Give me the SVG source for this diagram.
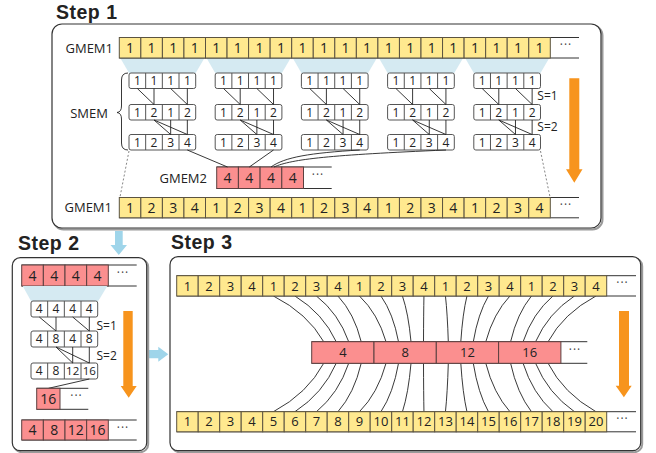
<svg xmlns="http://www.w3.org/2000/svg" width="656" height="453" viewBox="0 0 656 453">
<style>
.box{fill:#fff;stroke:#333;stroke-width:1.2}
.shd{fill:none;stroke:#9a9a9a;stroke-width:2}
.cy{fill:#ffe98f;stroke:#5b5340;stroke-width:1}
.cp{fill:#fb8f8f;stroke:#5b4040;stroke-width:1}
.cw{fill:#fff;stroke:#555;stroke-width:1}
.sep{stroke:#555;stroke-width:1;fill:none}
.ext{stroke:#333;stroke-width:1;fill:none}
.ln{stroke:#222;stroke-width:0.9;fill:none}
.dash{stroke:#777;stroke-width:0.9;stroke-dasharray:2,2;fill:none}
.tr{fill:#d5eaf2}
.or{fill:#f7941d}
.bl{fill:#9fd5ea}
text{font-family:"Open Sans","Liberation Sans",sans-serif;fill:#222}
.c{text-anchor:middle}
.n14{font-size:14px}
.n13{font-size:13px}
.n12{font-size:12px}
.n11{font-size:11.5px}
.lbl{font-size:13px;text-anchor:end}
.s{font-size:12px}
.dots{font-size:12px;text-anchor:middle;letter-spacing:1px;fill:#444}
.ttl{font-family:"Liberation Sans","Open Sans",sans-serif;font-size:19.5px;font-weight:bold;letter-spacing:0.5px}
</style>

<!-- Titles -->
<text class="ttl" x="56" y="19">Step 1</text>
<text class="ttl" x="18" y="250">Step 2</text>
<text class="ttl" x="171" y="249">Step 3</text>

<!-- Step 1 frame -->
<g id="step1">
<rect class="shd" x="53.5" y="25.5" width="549" height="204" rx="10"/>
<rect class="box" x="52" y="24" width="549" height="204" rx="10"/>

<g id="step1-trapezoids">
<polygon class="tr" points="120.3,58 204.5,58 195.7,73 129,73"/>
<polygon class="tr" points="206.5,58 290.7,58 281.9,73 215.2,73"/>
<polygon class="tr" points="292.7,58 376.9,58 368.1,73 301.4,73"/>
<polygon class="tr" points="378.9,58 463.1,58 454.3,73 387.6,73"/>
<polygon class="tr" points="465.1,58 549.3,58 540.5,73 473.8,73"/>
</g>

<g id="gmem1-top">
<text class="lbl" x="113" y="52.5">GMEM1</text>
<path class="ext" d="M119.3,37.5H579M119.3,58H579"/>
<rect class="cy" x="119.3" y="37.5" width="21.55" height="20.5"/>
<rect class="cy" x="140.85" y="37.5" width="21.55" height="20.5"/>
<rect class="cy" x="162.4" y="37.5" width="21.55" height="20.5"/>
<rect class="cy" x="183.95" y="37.5" width="21.55" height="20.5"/>
<rect class="cy" x="205.5" y="37.5" width="21.55" height="20.5"/>
<rect class="cy" x="227.05" y="37.5" width="21.55" height="20.5"/>
<rect class="cy" x="248.6" y="37.5" width="21.55" height="20.5"/>
<rect class="cy" x="270.15" y="37.5" width="21.55" height="20.5"/>
<rect class="cy" x="291.7" y="37.5" width="21.55" height="20.5"/>
<rect class="cy" x="313.25" y="37.5" width="21.55" height="20.5"/>
<rect class="cy" x="334.8" y="37.5" width="21.55" height="20.5"/>
<rect class="cy" x="356.35" y="37.5" width="21.55" height="20.5"/>
<rect class="cy" x="377.9" y="37.5" width="21.55" height="20.5"/>
<rect class="cy" x="399.45" y="37.5" width="21.55" height="20.5"/>
<rect class="cy" x="421" y="37.5" width="21.55" height="20.5"/>
<rect class="cy" x="442.55" y="37.5" width="21.55" height="20.5"/>
<rect class="cy" x="464.1" y="37.5" width="21.55" height="20.5"/>
<rect class="cy" x="485.65" y="37.5" width="21.55" height="20.5"/>
<rect class="cy" x="507.2" y="37.5" width="21.55" height="20.5"/>
<rect class="cy" x="528.75" y="37.5" width="21.55" height="20.5"/>
<g class="c n14">
<text x="130.1" y="52.7">1</text><text x="151.6" y="52.7">1</text><text x="173.2" y="52.7">1</text><text x="194.7" y="52.7">1</text>
<text x="216.3" y="52.7">1</text><text x="237.8" y="52.7">1</text><text x="259.4" y="52.7">1</text><text x="280.9" y="52.7">1</text>
<text x="302.5" y="52.7">1</text><text x="324" y="52.7">1</text><text x="345.6" y="52.7">1</text><text x="367.1" y="52.7">1</text>
<text x="388.7" y="52.7">1</text><text x="410.2" y="52.7">1</text><text x="431.8" y="52.7">1</text><text x="453.3" y="52.7">1</text>
<text x="474.9" y="52.7">1</text><text x="496.4" y="52.7">1</text><text x="518" y="52.7">1</text><text x="539.5" y="52.7">1</text>
</g>
<text class="dots" x="566" y="49">···</text>
</g>

<g id="smem-label">
<text class="n13" x="89" y="117.5" text-anchor="middle">SMEM</text>
<path class="ln" d="M128,73 Q121.5,73 121.5,80 L121.5,106 Q121.5,112 117,112.5 Q121.5,113 121.5,119 L121.5,143 Q121.5,150 128,150"/>
</g>

<g id="smem1" transform="translate(129,0)">
<rect class="cw" x="0" y="73" width="66.7" height="15.5" rx="2"/>
<rect class="cw" x="0" y="104.5" width="66.7" height="15.5" rx="2"/>
<rect class="cw" x="0" y="134.5" width="66.7" height="15.5" rx="2"/>
<path class="sep" d="M16.67,73v15.5M33.33,73v15.5M50,73v15.5M16.67,104.5v15.5M33.33,104.5v15.5M50,104.5v15.5M16.67,134.5v15.5M33.33,134.5v15.5M50,134.5v15.5"/>
<path class="ln" d="M8.33,88.5L25,104.5M25,88.5V104.5M41.67,88.5L58.33,104.5M58.33,88.5V104.5M25,120L41.67,134.5M25,120L58.33,134.5M41.67,120V134.5M58.33,120V134.5"/>
<g class="c n12">
<text x="8.33" y="85">1</text><text x="25" y="85">1</text><text x="41.67" y="85">1</text><text x="58.33" y="85">1</text>
<text x="8.33" y="116.5">1</text><text x="25" y="116.5">2</text><text x="41.67" y="116.5">1</text><text x="58.33" y="116.5">2</text>
<text x="8.33" y="146.5">1</text><text x="25" y="146.5">2</text><text x="41.67" y="146.5">3</text><text x="58.33" y="146.5">4</text>
</g>
</g>
<g id="smem2" transform="translate(215.2,0)">
<rect class="cw" x="0" y="73" width="66.7" height="15.5" rx="2"/>
<rect class="cw" x="0" y="104.5" width="66.7" height="15.5" rx="2"/>
<rect class="cw" x="0" y="134.5" width="66.7" height="15.5" rx="2"/>
<path class="sep" d="M16.67,73v15.5M33.33,73v15.5M50,73v15.5M16.67,104.5v15.5M33.33,104.5v15.5M50,104.5v15.5M16.67,134.5v15.5M33.33,134.5v15.5M50,134.5v15.5"/>
<path class="ln" d="M8.33,88.5L25,104.5M25,88.5V104.5M41.67,88.5L58.33,104.5M58.33,88.5V104.5M25,120L41.67,134.5M25,120L58.33,134.5M41.67,120V134.5M58.33,120V134.5"/>
<g class="c n12">
<text x="8.33" y="85">1</text><text x="25" y="85">1</text><text x="41.67" y="85">1</text><text x="58.33" y="85">1</text>
<text x="8.33" y="116.5">1</text><text x="25" y="116.5">2</text><text x="41.67" y="116.5">1</text><text x="58.33" y="116.5">2</text>
<text x="8.33" y="146.5">1</text><text x="25" y="146.5">2</text><text x="41.67" y="146.5">3</text><text x="58.33" y="146.5">4</text>
</g>
</g>
<g id="smem3" transform="translate(301.4,0)">
<rect class="cw" x="0" y="73" width="66.7" height="15.5" rx="2"/>
<rect class="cw" x="0" y="104.5" width="66.7" height="15.5" rx="2"/>
<rect class="cw" x="0" y="134.5" width="66.7" height="15.5" rx="2"/>
<path class="sep" d="M16.67,73v15.5M33.33,73v15.5M50,73v15.5M16.67,104.5v15.5M33.33,104.5v15.5M50,104.5v15.5M16.67,134.5v15.5M33.33,134.5v15.5M50,134.5v15.5"/>
<path class="ln" d="M8.33,88.5L25,104.5M25,88.5V104.5M41.67,88.5L58.33,104.5M58.33,88.5V104.5M25,120L41.67,134.5M25,120L58.33,134.5M41.67,120V134.5M58.33,120V134.5"/>
<g class="c n12">
<text x="8.33" y="85">1</text><text x="25" y="85">1</text><text x="41.67" y="85">1</text><text x="58.33" y="85">1</text>
<text x="8.33" y="116.5">1</text><text x="25" y="116.5">2</text><text x="41.67" y="116.5">1</text><text x="58.33" y="116.5">2</text>
<text x="8.33" y="146.5">1</text><text x="25" y="146.5">2</text><text x="41.67" y="146.5">3</text><text x="58.33" y="146.5">4</text>
</g>
</g>
<g id="smem4" transform="translate(387.6,0)">
<rect class="cw" x="0" y="73" width="66.7" height="15.5" rx="2"/>
<rect class="cw" x="0" y="104.5" width="66.7" height="15.5" rx="2"/>
<rect class="cw" x="0" y="134.5" width="66.7" height="15.5" rx="2"/>
<path class="sep" d="M16.67,73v15.5M33.33,73v15.5M50,73v15.5M16.67,104.5v15.5M33.33,104.5v15.5M50,104.5v15.5M16.67,134.5v15.5M33.33,134.5v15.5M50,134.5v15.5"/>
<path class="ln" d="M8.33,88.5L25,104.5M25,88.5V104.5M41.67,88.5L58.33,104.5M58.33,88.5V104.5M25,120L41.67,134.5M25,120L58.33,134.5M41.67,120V134.5M58.33,120V134.5"/>
<g class="c n12">
<text x="8.33" y="85">1</text><text x="25" y="85">1</text><text x="41.67" y="85">1</text><text x="58.33" y="85">1</text>
<text x="8.33" y="116.5">1</text><text x="25" y="116.5">2</text><text x="41.67" y="116.5">1</text><text x="58.33" y="116.5">2</text>
<text x="8.33" y="146.5">1</text><text x="25" y="146.5">2</text><text x="41.67" y="146.5">3</text><text x="58.33" y="146.5">4</text>
</g>
</g>
<g id="smem5" transform="translate(473.8,0)">
<rect class="cw" x="0" y="73" width="66.7" height="15.5" rx="2"/>
<rect class="cw" x="0" y="104.5" width="66.7" height="15.5" rx="2"/>
<rect class="cw" x="0" y="134.5" width="66.7" height="15.5" rx="2"/>
<path class="sep" d="M16.67,73v15.5M33.33,73v15.5M50,73v15.5M16.67,104.5v15.5M33.33,104.5v15.5M50,104.5v15.5M16.67,134.5v15.5M33.33,134.5v15.5M50,134.5v15.5"/>
<path class="ln" d="M8.33,88.5L25,104.5M25,88.5V104.5M41.67,88.5L58.33,104.5M58.33,88.5V104.5M25,120L41.67,134.5M25,120L58.33,134.5M41.67,120V134.5M58.33,120V134.5"/>
<g class="c n12">
<text x="8.33" y="85">1</text><text x="25" y="85">1</text><text x="41.67" y="85">1</text><text x="58.33" y="85">1</text>
<text x="8.33" y="116.5">1</text><text x="25" y="116.5">2</text><text x="41.67" y="116.5">1</text><text x="58.33" y="116.5">2</text>
<text x="8.33" y="146.5">1</text><text x="25" y="146.5">2</text><text x="41.67" y="146.5">3</text><text x="58.33" y="146.5">4</text>
</g>
<text class="s" x="63.5" y="100">S=1</text>
<text class="s" x="63.5" y="131">S=2</text>
</g>

<g id="gmem2">
<text class="lbl" x="207" y="182.5">GMEM2</text>
<path class="ext" d="M216.7,167H331.7M216.7,188.5H331.7"/>
<rect class="cp" x="216.7" y="167" width="21.7" height="21.5"/>
<rect class="cp" x="238.4" y="167" width="21.7" height="21.5"/>
<rect class="cp" x="260.1" y="167" width="21.7" height="21.5"/>
<rect class="cp" x="281.8" y="167" width="21.7" height="21.5"/>
<g class="c n14">
<text x="227.55" y="182.7">4</text><text x="249.25" y="182.7">4</text><text x="270.95" y="182.7">4</text><text x="292.65" y="182.7">4</text>
</g>
<text class="dots" x="318" y="179">···</text>
</g>

<g id="gmem1-bottom">
<text class="lbl" x="112" y="212">GMEM1</text>
<path class="ext" d="M119.3,197.5H579M119.3,217.8H579"/>
<rect class="cy" x="119.3" y="197.5" width="21.55" height="20.3"/>
<rect class="cy" x="140.85" y="197.5" width="21.55" height="20.3"/>
<rect class="cy" x="162.4" y="197.5" width="21.55" height="20.3"/>
<rect class="cy" x="183.95" y="197.5" width="21.55" height="20.3"/>
<rect class="cy" x="205.5" y="197.5" width="21.55" height="20.3"/>
<rect class="cy" x="227.05" y="197.5" width="21.55" height="20.3"/>
<rect class="cy" x="248.6" y="197.5" width="21.55" height="20.3"/>
<rect class="cy" x="270.15" y="197.5" width="21.55" height="20.3"/>
<rect class="cy" x="291.7" y="197.5" width="21.55" height="20.3"/>
<rect class="cy" x="313.25" y="197.5" width="21.55" height="20.3"/>
<rect class="cy" x="334.8" y="197.5" width="21.55" height="20.3"/>
<rect class="cy" x="356.35" y="197.5" width="21.55" height="20.3"/>
<rect class="cy" x="377.9" y="197.5" width="21.55" height="20.3"/>
<rect class="cy" x="399.45" y="197.5" width="21.55" height="20.3"/>
<rect class="cy" x="421" y="197.5" width="21.55" height="20.3"/>
<rect class="cy" x="442.55" y="197.5" width="21.55" height="20.3"/>
<rect class="cy" x="464.1" y="197.5" width="21.55" height="20.3"/>
<rect class="cy" x="485.65" y="197.5" width="21.55" height="20.3"/>
<rect class="cy" x="507.2" y="197.5" width="21.55" height="20.3"/>
<rect class="cy" x="528.75" y="197.5" width="21.55" height="20.3"/>
<g class="c n14">
<text x="130.1" y="212.6">1</text><text x="151.6" y="212.6">2</text><text x="173.2" y="212.6">3</text><text x="194.7" y="212.6">4</text>
<text x="216.3" y="212.6">1</text><text x="237.8" y="212.6">2</text><text x="259.4" y="212.6">3</text><text x="280.9" y="212.6">4</text>
<text x="302.5" y="212.6">1</text><text x="324" y="212.6">2</text><text x="345.6" y="212.6">3</text><text x="367.1" y="212.6">4</text>
<text x="388.7" y="212.6">1</text><text x="410.2" y="212.6">2</text><text x="431.8" y="212.6">3</text><text x="453.3" y="212.6">4</text>
<text x="474.9" y="212.6">1</text><text x="496.4" y="212.6">2</text><text x="518" y="212.6">3</text><text x="539.5" y="212.6">4</text>
</g>
<text class="dots" x="566" y="209">···</text>
</g>

<g id="step1-connectors">
<path class="ln" d="M187.3,150L227.5,167"/>
<path class="ln" d="M273.5,150L249.3,167"/>
<path class="ln" d="M271,167C285,157 310,153 359.7,150"/>
<path class="ln" d="M274,167C292,159 330,155 446,150"/>
<path class="dash" d="M129,151L120,197"/>
<path class="dash" d="M540.5,151L550,197"/>
</g>
<polygon id="step1-arrow" class="or" points="569.3,78.3 579.3,78.3 579.3,169.3 582.5,169.3 574.3,182.7 566,169.3 569.3,169.3"/>
</g>

<polygon id="arrow-1-2" class="bl" points="115,231 122.7,231 122.7,245 127,245 118.8,255 110.5,245 115,245"/>
<polygon id="arrow-2-3" class="bl" points="148.3,350 158.3,350 158.3,346.7 168.3,354.2 158.3,361.7 158.3,358.3 148.3,358.3"/>

<g id="step2">
<rect class="shd" x="13.8" y="259.2" width="134.4" height="193" rx="8"/>
<rect class="box" x="12.3" y="257.7" width="134.4" height="193" rx="8"/>
<g id="step2-top">
<path class="ext" d="M21.7,265H136.7M21.7,286H136.7"/>
<rect class="cp" x="21.7" y="265" width="21.65" height="21"/>
<rect class="cp" x="43.35" y="265" width="21.65" height="21"/>
<rect class="cp" x="65" y="265" width="21.65" height="21"/>
<rect class="cp" x="86.65" y="265" width="21.65" height="21"/>
<g class="c n14"><text x="32.5" y="280.5">4</text><text x="54.2" y="280.5">4</text><text x="75.8" y="280.5">4</text><text x="97.5" y="280.5">4</text></g>
<text class="dots" x="123" y="277">···</text>
</g>
<polygon class="tr" points="22.7,286 107.3,286 98.3,301 31,301"/>
<g id="step2-smem">
<rect class="cw" x="31" y="301" width="66.7" height="16" rx="2"/>
<rect class="cw" x="31" y="331" width="66.7" height="16" rx="2"/>
<rect class="cw" x="31" y="363" width="66.7" height="16" rx="2"/>
<path class="sep" d="M47.67,301v16M64.33,301v16M81,301v16M47.67,331v16M64.33,331v16M81,331v16M47.67,363v16M64.33,363v16M81,363v16"/>
<path class="ln" d="M39.3,317L56,331M56,317V331M72.7,317L89.3,331M89.3,317V331M56,347L72.7,363M56,347L89.3,363M72.7,347V363M89.3,347V363"/>
<g class="c n12">
<text x="39.3" y="313.3">4</text><text x="56" y="313.3">4</text><text x="72.7" y="313.3">4</text><text x="89.3" y="313.3">4</text>
<text x="39.3" y="343.3">4</text><text x="56" y="343.3">8</text><text x="72.7" y="343.3">4</text><text x="89.3" y="343.3">8</text>
<text x="39.3" y="375.3">4</text><text x="56" y="375.3">8</text><text x="72.7" y="375.3" class="n11">12</text><text x="89.3" y="375.3" class="n11">16</text>
</g>
<text class="s" x="96.5" y="330">S=1</text>
<text class="s" x="96.5" y="360">S=2</text>
</g>
<path class="ln" d="M89.3,379L48.5,388.3"/>
<g id="step2-partial">
<path class="ext" d="M36.7,388.3H88.3M36.7,409.3H88.3"/>
<rect class="cp" x="36.7" y="388.3" width="23.3" height="21"/>
<text class="c n14" x="48.3" y="403.8">16</text>
<text class="dots" x="76.5" y="400">···</text>
</g>
<g id="step2-bottom">
<path class="ext" d="M21.7,420H136.7M21.7,440H136.7"/>
<rect class="cp" x="21.7" y="420" width="21.65" height="20"/>
<rect class="cp" x="43.35" y="420" width="21.65" height="20"/>
<rect class="cp" x="65" y="420" width="21.65" height="20"/>
<rect class="cp" x="86.65" y="420" width="21.65" height="20"/>
<g class="c n14"><text x="32.5" y="435">4</text><text x="54.2" y="435">8</text><text x="75.8" y="435">12</text><text x="97.5" y="435">16</text></g>
<text class="dots" x="123" y="432">···</text>
</g>
<polygon id="step2-arrow" class="or" points="123.3,311 132.7,311 132.7,386 136.7,386 128.7,397.7 120.7,386 123.3,386"/>
</g>

<g id="step3">
<rect class="shd" x="171.5" y="258.2" width="470.7" height="194" rx="8"/>
<rect class="box" x="170" y="256.7" width="470.7" height="194" rx="8"/>

<g id="step3-connectors">
<path class="ln" d="M273.45,296Q307.6,313.4 323.7,341.7M294.95,296Q323.1,313.4 336.2,341.7M316.45,296Q338.6,313.4 348.7,341.7M337.95,296Q354.2,313.4 361.2,341.7M359.45,296Q377.8,313.4 386,341.7M380.95,296Q393.2,313.4 398.5,341.7M402.45,296Q408.4,313.4 411,341.7M423.95,296Q423.6,313.4 423.5,341.7M445.45,296Q447.4,313.4 448.3,341.7M466.95,296Q462.7,313.4 460.8,341.7M488.45,296Q478.1,313.4 473.3,341.7M509.95,296Q493.5,313.4 485.8,341.7M531.45,296Q517.2,313.4 510.6,341.7M552.95,296Q532.6,313.4 523.1,341.7M574.45,296Q548,313.4 535.6,341.7M595.95,296Q563.4,313.4 548.1,341.7"/>
<path class="ln" d="M273.45,411.7Q307.6,393.3 323.7,363.3M294.95,411.7Q323.1,393.3 336.2,363.3M316.45,411.7Q338.6,393.3 348.7,363.3M337.95,411.7Q354.2,393.3 361.2,363.3M359.45,411.7Q377.8,393.3 386,363.3M380.95,411.7Q393.2,393.3 398.5,363.3M402.45,411.7Q408.4,393.3 411,363.3M423.95,411.7Q423.6,393.3 423.5,363.3M445.45,411.7Q447.4,393.3 448.3,363.3M466.95,411.7Q462.7,393.3 460.8,363.3M488.45,411.7Q478.1,393.3 473.3,363.3M509.95,411.7Q493.5,393.3 485.8,363.3M531.45,411.7Q517.2,393.3 510.6,363.3M552.95,411.7Q532.6,393.3 523.1,363.3M574.45,411.7Q548,393.3 535.6,363.3M595.95,411.7Q563.4,393.3 548.1,363.3"/>
</g>

<g id="step3-top">
<path class="ext" d="M176.7,275.7H636M176.7,296H636"/>
<rect class="cy" x="176.7" y="275.7" width="21.5" height="20.3"/>
<rect class="cy" x="198.2" y="275.7" width="21.5" height="20.3"/>
<rect class="cy" x="219.7" y="275.7" width="21.5" height="20.3"/>
<rect class="cy" x="241.2" y="275.7" width="21.5" height="20.3"/>
<rect class="cy" x="262.7" y="275.7" width="21.5" height="20.3"/>
<rect class="cy" x="284.2" y="275.7" width="21.5" height="20.3"/>
<rect class="cy" x="305.7" y="275.7" width="21.5" height="20.3"/>
<rect class="cy" x="327.2" y="275.7" width="21.5" height="20.3"/>
<rect class="cy" x="348.7" y="275.7" width="21.5" height="20.3"/>
<rect class="cy" x="370.2" y="275.7" width="21.5" height="20.3"/>
<rect class="cy" x="391.7" y="275.7" width="21.5" height="20.3"/>
<rect class="cy" x="413.2" y="275.7" width="21.5" height="20.3"/>
<rect class="cy" x="434.7" y="275.7" width="21.5" height="20.3"/>
<rect class="cy" x="456.2" y="275.7" width="21.5" height="20.3"/>
<rect class="cy" x="477.7" y="275.7" width="21.5" height="20.3"/>
<rect class="cy" x="499.2" y="275.7" width="21.5" height="20.3"/>
<rect class="cy" x="520.7" y="275.7" width="21.5" height="20.3"/>
<rect class="cy" x="542.2" y="275.7" width="21.5" height="20.3"/>
<rect class="cy" x="563.7" y="275.7" width="21.5" height="20.3"/>
<rect class="cy" x="585.2" y="275.7" width="21.5" height="20.3"/>
<g class="c n13">
<text x="187.45" y="290.5">1</text><text x="208.95" y="290.5">2</text><text x="230.45" y="290.5">3</text><text x="251.95" y="290.5">4</text>
<text x="273.45" y="290.5">1</text><text x="294.95" y="290.5">2</text><text x="316.45" y="290.5">3</text><text x="337.95" y="290.5">4</text>
<text x="359.45" y="290.5">1</text><text x="380.95" y="290.5">2</text><text x="402.45" y="290.5">3</text><text x="423.95" y="290.5">4</text>
<text x="445.45" y="290.5">1</text><text x="466.95" y="290.5">2</text><text x="488.45" y="290.5">3</text><text x="509.95" y="290.5">4</text>
<text x="531.45" y="290.5">1</text><text x="552.95" y="290.5">2</text><text x="574.45" y="290.5">3</text><text x="595.95" y="290.5">4</text>
</g>
<text class="dots" x="622.5" y="287">···</text>
</g>

<g id="step3-mid">
<path class="ext" d="M311.7,341.7H587.3M311.7,363.3H587.3"/>
<rect class="cp" x="311.7" y="341.7" width="62.3" height="21.6"/>
<rect class="cp" x="374" y="341.7" width="62.3" height="21.6"/>
<rect class="cp" x="436.3" y="341.7" width="62.3" height="21.6"/>
<rect class="cp" x="498.6" y="341.7" width="62.3" height="21.6"/>
<g class="c n13">
<text x="342.85" y="357.2">4</text><text x="405.15" y="357.2">8</text><text x="467.45" y="357.2">12</text><text x="529.75" y="357.2">16</text>
</g>
<text class="dots" x="575" y="353.5">···</text>
</g>

<g id="step3-bottom">
<path class="ext" d="M176.7,411.7H636M176.7,431.8H636"/>
<rect class="cy" x="176.7" y="411.7" width="21.5" height="20.1"/>
<rect class="cy" x="198.2" y="411.7" width="21.5" height="20.1"/>
<rect class="cy" x="219.7" y="411.7" width="21.5" height="20.1"/>
<rect class="cy" x="241.2" y="411.7" width="21.5" height="20.1"/>
<rect class="cy" x="262.7" y="411.7" width="21.5" height="20.1"/>
<rect class="cy" x="284.2" y="411.7" width="21.5" height="20.1"/>
<rect class="cy" x="305.7" y="411.7" width="21.5" height="20.1"/>
<rect class="cy" x="327.2" y="411.7" width="21.5" height="20.1"/>
<rect class="cy" x="348.7" y="411.7" width="21.5" height="20.1"/>
<rect class="cy" x="370.2" y="411.7" width="21.5" height="20.1"/>
<rect class="cy" x="391.7" y="411.7" width="21.5" height="20.1"/>
<rect class="cy" x="413.2" y="411.7" width="21.5" height="20.1"/>
<rect class="cy" x="434.7" y="411.7" width="21.5" height="20.1"/>
<rect class="cy" x="456.2" y="411.7" width="21.5" height="20.1"/>
<rect class="cy" x="477.7" y="411.7" width="21.5" height="20.1"/>
<rect class="cy" x="499.2" y="411.7" width="21.5" height="20.1"/>
<rect class="cy" x="520.7" y="411.7" width="21.5" height="20.1"/>
<rect class="cy" x="542.2" y="411.7" width="21.5" height="20.1"/>
<rect class="cy" x="563.7" y="411.7" width="21.5" height="20.1"/>
<rect class="cy" x="585.2" y="411.7" width="21.5" height="20.1"/>
<g class="c n13">
<text x="187.45" y="426.4">1</text><text x="208.95" y="426.4">2</text><text x="230.45" y="426.4">3</text><text x="251.95" y="426.4">4</text>
<text x="273.45" y="426.4">5</text><text x="294.95" y="426.4">6</text><text x="316.45" y="426.4">7</text><text x="337.95" y="426.4">8</text>
<text x="359.45" y="426.4">9</text><text x="380.95" y="426.4">10</text><text x="402.45" y="426.4">11</text><text x="423.95" y="426.4">12</text>
<text x="445.45" y="426.4">13</text><text x="466.95" y="426.4">14</text><text x="488.45" y="426.4">15</text><text x="509.95" y="426.4">16</text>
<text x="531.45" y="426.4">17</text><text x="552.95" y="426.4">18</text><text x="574.45" y="426.4">19</text><text x="595.95" y="426.4">20</text>
</g>
<text class="dots" x="622.5" y="423">···</text>
</g>
<polygon id="step3-arrow" class="or" points="619,311 629,311 629,385.7 631.7,385.7 623.9,397.3 615.7,385.7 619,385.7"/>
</g>
</svg>
